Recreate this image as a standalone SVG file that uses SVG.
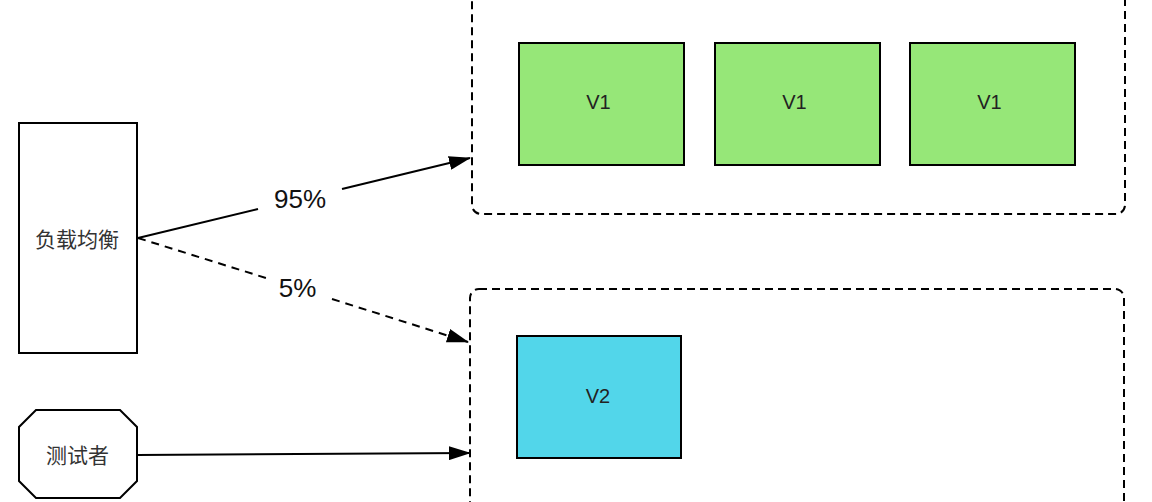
<svg xmlns="http://www.w3.org/2000/svg" width="1152" height="502" viewBox="0 0 1152 502">
<style>
.node{stroke:#000;stroke-width:2}
.lbl{font-family:"Liberation Sans","Noto Sans CJK SC",sans-serif;font-size:21px;fill:#333;text-anchor:middle;dominant-baseline:central}
.vlbl{font-family:"Liberation Sans",sans-serif;font-size:20px;fill:#222;text-anchor:middle;dominant-baseline:central}
.pct{font-family:"Liberation Sans",sans-serif;font-size:26px;fill:#111;text-anchor:middle;dominant-baseline:central}
.cont{fill:none;stroke:#000;stroke-width:2;stroke-dasharray:8 5}
.edge{fill:none;stroke:#000;stroke-width:2}
</style>
<defs>
<marker id="arr" viewBox="0 0 22 14" refX="21" refY="7" markerWidth="22" markerHeight="14" markerUnits="userSpaceOnUse" orient="auto">
<path d="M0,0 L22,7 L0,14 Z" fill="#000"/>
</marker>
</defs>
<rect width="1152" height="502" fill="#fff"/>
<g id="group-v1">
<rect class="cont" x="472" y="-12" width="653" height="226" rx="9"/>
</g>
<g id="group-v2">
<rect class="cont" x="470" y="289" width="654" height="240" rx="9"/>
</g>
<g id="lb">
<rect class="node" x="19" y="123" width="118" height="230" fill="#fff"/>
<text class="lbl" x="77" y="239">负载均衡</text>
</g>
<g id="tester">
<polygon class="node" points="36,410 120,410 137,427 137,481 120,498 36,498 19,481 19,427" fill="#fff"/>
<text class="lbl" x="77.5" y="455">测试者</text>
</g>
<g id="v1a">
<rect class="node" x="519" y="43" width="165" height="122" fill="#96e778"/>
<text class="vlbl" x="598.5" y="102">V1</text>
</g>
<g id="v1b">
<rect class="node" x="715" y="43" width="165" height="122" fill="#96e778"/>
<text class="vlbl" x="794.5" y="102">V1</text>
</g>
<g id="v1c">
<rect class="node" x="910" y="43" width="165" height="122" fill="#96e778"/>
<text class="vlbl" x="989.5" y="102">V1</text>
</g>
<g id="v2">
<rect class="node" x="517" y="336" width="164" height="122" fill="#52d6ea"/>
<text class="vlbl" x="598" y="396">V2</text>
</g>
<g id="connectors">
<path class="edge" d="M138,238 L258,209"/>
<path class="edge" d="M342,189 L470,158" marker-end="url(#arr)"/>
<text class="pct" x="300" y="199">95%</text>
<path class="edge" stroke-dasharray="8 6" d="M138,238 L266,278"/>
<path class="edge" stroke-dasharray="8 6" d="M332,299 L468,342" marker-end="url(#arr)"/>
<text class="pct" x="297.5" y="288">5%</text>
<path class="edge" d="M137,455 L470,453" marker-end="url(#arr)"/>
</g>
</svg>
